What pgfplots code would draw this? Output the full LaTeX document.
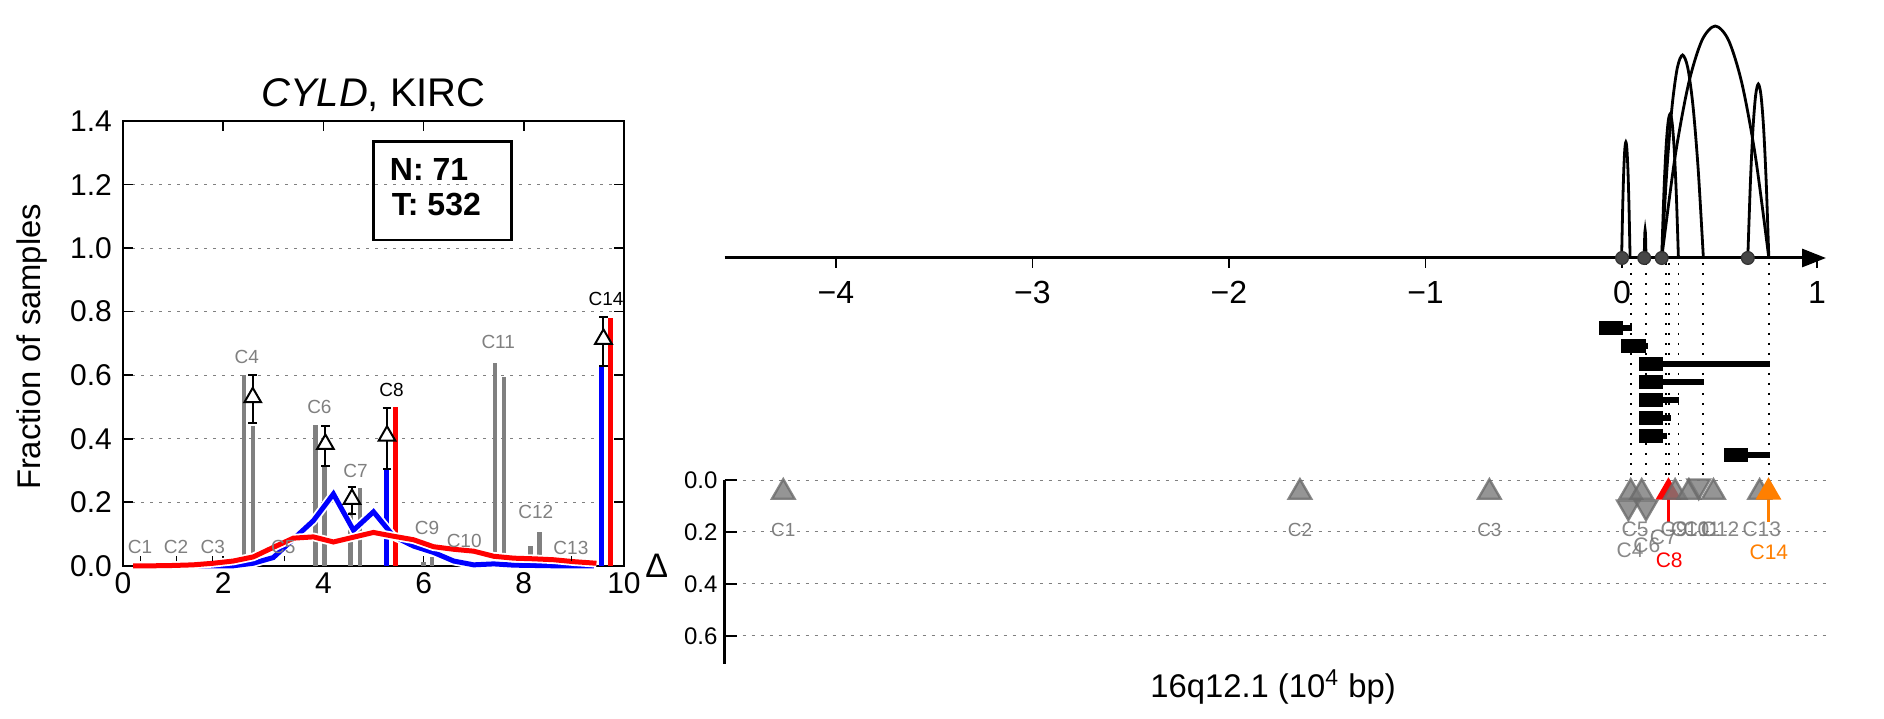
\documentclass[border=0pt]{standalone}
\usepackage{fontspec}
\setmainfont{Liberation Sans}
\usepackage{pgfplots}
\pgfplotsset{compat=1.18}
\usetikzlibrary{arrows.meta}
\definecolor{evgray}{RGB}{128,128,128}
\definecolor{myorange}{RGB}{255,127,0}
\begin{document}
\begin{tikzpicture}[x=1pt,y=1pt]
\useasboundingbox (0,0) rectangle (942,359);
% ---------------- left panel ----------------
\begin{axis}[
  at={(61.5pt,76.1pt)}, anchor=south west,
  scale only axis, width=250.5pt, height=222.4pt,
  xmin=0, xmax=10, ymin=0, ymax=1.4,
  xtick={0,2,4,6,8,10}, xticklabels={0,2,4,6,8,10},
  ytick={0,0.2,0.4,0.6,0.8,1.0,1.2,1.4},
  yticklabels={0.0,0.2,0.4,0.6,0.8,1.0,1.2,1.4},
  tick align=inside, major tick length=5pt,
  tick style={black, line width=0.8pt},
  axis line style={line width=1.3pt},
  tick label style={font=\fontsize{15}{18}\selectfont},
  yticklabel style={xshift=-2pt},
  ymajorgrids, grid style={gray, line width=0.5pt, dash pattern=on 1.5pt off 3pt},
  unbounded coords=jump,
  clip=false,
]
% gray bars
\addplot[ycomb, evgray, line width=2.2pt] coordinates {
 (2.41,0.60) (2.59,0.44) (3.84,0.443) (4.02,0.31) (4.54,0.17) (4.73,0.245)
 (6.0,0.012) (6.17,0.028) (7.43,0.637) (7.61,0.593) (8.13,0.061) (8.31,0.105)};
% colored bars
\addplot[ycomb, blue, line width=2.5pt] coordinates {(5.25,0.30) (9.56,0.627)};
\addplot[ycomb, red, line width=2.5pt] coordinates {(5.44,0.50) (9.74,0.779)};
% blue line with halo
\addplot[white, line width=4.3pt] coordinates {
 (0.2,0) (0.6,0) (1.0,0) (1.4,0) (1.8,0) (2.2,0) (2.6,0.008) (3.0,0.026) (3.4,0.084)
 (3.8,0.142) (4.2,0.226) (4.6,0.112) (5.0,0.170) (5.4,0.093) (5.8,0.062) (6.2,0.042)
 (6.6,0.015) (7.0,0.003) (7.4,0.006) (7.8,0.002) (8.2,0.001) (8.6,0) (9.0,0) (9.4,0)};
\addplot[blue, line width=2.5pt] coordinates {
 (0.2,0) (0.6,0) (1.0,0) (1.4,0) (1.8,0) (2.2,0) (2.6,0.008) (3.0,0.026) (3.4,0.084)
 (3.8,0.142) (4.2,0.226) (4.6,0.112) (5.0,0.170) (5.4,0.093) (5.8,0.062) (6.2,0.042)
 (6.6,0.015) (7.0,0.003) (7.4,0.006) (7.8,0.002) (8.2,0.001) (8.6,0) (9.0,0) (9.4,0)};
% red line with halo
\addplot[white, line width=4.3pt] coordinates {
 (0.2,0) (0.6,0) (1.0,0.001) (1.4,0.003) (1.8,0.008) (2.2,0.015) (2.6,0.028) (3.0,0.058)
 (3.4,0.087) (3.8,0.091) (4.2,0.075) (4.6,0.090) (5.0,0.105) (5.4,0.093) (5.8,0.082)
 (6.2,0.060) (6.6,0.052) (7.0,0.046) (7.4,0.030) (7.8,0.024) (8.2,0.022) (8.6,0.019)
 (9.0,0.013) (9.45,0.008)};
\addplot[red, line width=2.5pt] coordinates {
 (0.2,0) (0.6,0) (1.0,0.001) (1.4,0.003) (1.8,0.008) (2.2,0.015) (2.6,0.028) (3.0,0.058)
 (3.4,0.087) (3.8,0.091) (4.2,0.075) (4.6,0.090) (5.0,0.105) (5.4,0.093) (5.8,0.082)
 (6.2,0.060) (6.6,0.052) (7.0,0.046) (7.4,0.030) (7.8,0.024) (8.2,0.022) (8.6,0.019)
 (9.0,0.013) (9.45,0.008)};
% tiny marks
\addplot[black, line width=0.8pt] coordinates {
 (0.35,0.014) (0.35,0.031) (nan,nan) (1.07,0.014) (1.07,0.031) (nan,nan)
 (1.79,0.014) (1.79,0.031) (nan,nan) (3.22,0.014) (3.22,0.031) (nan,nan)
 (8.95,0.014) (8.95,0.031)};
% error bars
\addplot[only marks, mark=none, error bars/.cd, y dir=both, y explicit,
  error bar style={draw=black, solid, line width=1pt},
  error mark options={black, rotate=90, mark size=2.2pt, line width=1pt}] coordinates {
 (2.59,0.53) += (0,0.07) -= (0,0.08)
 (4.04,0.383) += (0,0.057) -= (0,0.068)
 (4.57,0.21) += (0,0.037) -= (0,0.047)
 (5.27,0.409) += (0,0.087) -= (0,0.105)
 (9.59,0.714) += (0,0.068) -= (0,0.085)};
\addplot[only marks, mark=triangle*, mark size=4.8pt,
  mark options={fill=white, draw=black, line width=1pt}] coordinates {
 (2.59,0.53) (4.04,0.383) (4.57,0.21) (5.27,0.409) (9.59,0.714)};
% labels
\begin{scope}[every node/.style={font=\fontsize{9.5}{11}\selectfont, text=evgray}]
\node at (axis cs:0.34,0.058) {C1};
\node at (axis cs:1.06,0.058) {C2};
\node at (axis cs:1.79,0.058) {C3};
\node at (axis cs:2.47,0.656) {C4};
\node at (axis cs:3.2,0.058) {C5};
\node at (axis cs:3.92,0.50) {C6};
\node at (axis cs:4.64,0.30) {C7};
\node[text=black] at (axis cs:5.36,0.553) {C8};
\node at (axis cs:6.07,0.12) {C9};
\node at (axis cs:6.81,0.079) {C10};
\node at (axis cs:7.49,0.703) {C11};
\node at (axis cs:8.24,0.168) {C12};
\node at (axis cs:8.94,0.056) {C13};
\node[text=black] at (axis cs:9.64,0.84) {C14};
\end{scope}
\node[font=\fontsize{20}{24}\selectfont] at (axis cs:5,1.48) {\textit{CYLD}, KIRC};
\node[font=\fontsize{16.4}{19}\selectfont, rotate=90] at (axis cs:-1.82,0.689) {Fraction of samples};
\node[draw, line width=1.2pt, anchor=north west, minimum width=68.85pt, minimum height=49.3pt, inner sep=0pt] at (axis cs:4.98,1.339) {};
\node[anchor=west, font=\bfseries\fontsize{16}{19}\selectfont, inner sep=0pt] at (axis cs:5.32,1.247) {N: 71};
\node[anchor=west, font=\bfseries\fontsize{16}{19}\selectfont, inner sep=0pt] at (axis cs:5.36,1.136) {T: 532};
\end{axis}
% ---------------- right top panel ----------------
\begin{axis}[
  at={(362.25pt,119pt)}, anchor=south west,
  scale only axis, width=550.75pt, height=240pt,
  xmin=-4.567, xmax=1.038, ymin=-222, ymax=258,
  hide axis, clip=false, unbounded coords=jump,
]
% dotted lines
\addplot[black, line width=0.9pt, dash pattern=on 0.9pt off 4.1pt] coordinates {
 (0.044,-5) (0.044,-222) (nan,nan) (0.122,-5) (0.122,-222) (nan,nan)
 (0.224,-5) (0.224,-222) (nan,nan) (0.238,-5) (0.238,-222) (nan,nan)
 (0.287,-5) (0.287,-222) (nan,nan) (0.414,-5) (0.414,-222) (nan,nan)
 (0.747,-5) (0.747,-222)};
% arcs
\addplot[black, line width=1.4pt, smooth] coordinates {
 (-0.002,0) (0.003375,50.75) (0.00875,87) (0.014125,108.75) (0.0195,116)
 (0.024875,108.75) (0.03025,87) (0.035625,50.75) (0.041,0)};
\addplot[black, line width=1.4pt, smooth] coordinates {
 (0.113,0) (0.114125,12.25) (0.11525,21) (0.116375,26.25) (0.1175,28)
 (0.118625,26.25) (0.11975,21) (0.120875,12.25) (0.122,0)};
\addplot[black, line width=1.4pt, smooth] coordinates {
 (0.202,0) (0.212625,63) (0.22325,108) (0.233875,135) (0.2445,144)
 (0.255125,135) (0.26575,108) (0.276375,63) (0.287,0)};
\addplot[black, line width=1.4pt, smooth] coordinates {
 (0.202,0) (0.2285,88.81) (0.255,152.25) (0.2815,190.31) (0.308,203)
 (0.3345,190.31) (0.361,152.25) (0.3875,88.81) (0.414,0)};
\addplot[black, line width=1.4pt, smooth] coordinates {
 (0.202,0) (0.270125,101.5) (0.33825,174) (0.406375,217.5) (0.4745,232)
 (0.542625,217.5) (0.61075,174) (0.678875,101.5) (0.747,0)};
\addplot[black, line width=1.4pt, smooth] coordinates {
 (0.64,0) (0.653375,76.125) (0.66675,130.5) (0.680125,163.125) (0.6935,174)
 (0.706875,163.125) (0.72025,130.5) (0.733625,76.125) (0.747,0)};
% genome axis
\addplot[black, line width=1.5pt, -{Triangle[length=12pt, width=9pt]}] coordinates {(-4.567,0) (1.038,0)};
\addplot[ycomb, black, line width=0.8pt] coordinates {(-4,-10) (-3,-10) (-2,-10) (-1,-10) (0,-10) (0.992,-10)};
\addplot[only marks, mark=*, mark size=3.2pt, mark options={fill=black!72, draw=black!80, line width=0.6pt}] coordinates {(0,0) (0.113,0) (0.202,0) (0.64,0)};
\begin{scope}[every node/.style={font=\fontsize{16}{19}\selectfont}]
\node at (axis cs:-4,-34.5) {−4};
\node at (axis cs:-3,-34.5) {−3};
\node at (axis cs:-2,-34.5) {−2};
\node at (axis cs:-1,-34.5) {−1};
\node at (axis cs:0,-34.5) {0};
\node at (axis cs:0.992,-34.5) {1};
\end{scope}
% rows: thin lines
\addplot[black, line width=2.85pt] coordinates {
 (-0.116,-69.7) (0.049,-69.7) (nan,nan)
 (-0.005,-87.7) (0.131,-87.7) (nan,nan)
 (0.088,-106.3) (0.753,-106.3) (nan,nan)
 (0.088,-124.3) (0.419,-124.3) (nan,nan)
 (0.088,-142.3) (0.292,-142.3) (nan,nan)
 (0.088,-160.3) (0.248,-160.3) (nan,nan)
 (0.088,-178) (0.231,-178) (nan,nan)
 (0.521,-197) (0.753,-197)};
% rows: boxes
\addplot[black, line width=7.15pt] coordinates {
 (-0.116,-69.7) (0.007,-69.7) (nan,nan)
 (-0.005,-87.7) (0.121,-87.7) (nan,nan)
 (0.088,-106.3) (0.210,-106.3) (nan,nan)
 (0.088,-124.3) (0.210,-124.3) (nan,nan)
 (0.088,-142.3) (0.210,-142.3) (nan,nan)
 (0.088,-160.3) (0.210,-160.3) (nan,nan)
 (0.088,-178) (0.210,-178) (nan,nan)
 (0.521,-197) (0.643,-197)};
\end{axis}
% ---------------- right bottom panel ----------------
\begin{axis}[
  at={(362.25pt,27pt)}, anchor=south west,
  scale only axis, width=551.75pt, height=92pt,
  xmin=-4.567, xmax=1.048, ymin=0, ymax=0.708, y dir=reverse,
  axis x line=none, axis y line=left,
  y axis line style={-, line width=1.3pt},
  ytick={0,0.2,0.4,0.6}, yticklabels={0.0,0.2,0.4,0.6},
  tick align=inside, major tick length=6pt,
  tick style={black, line width=0.8pt},
  tick label style={font=\fontsize{12}{14}\selectfont},
  ymajorgrids, grid style={gray, line width=0.5pt, dash pattern=on 1.5pt off 3pt},
  clip=false,
]
% red arrow
\addplot[red, line width=1.8pt] coordinates {(0.236,0.047) (0.236,0.16)};
\addplot[only marks, mark=triangle*, mark size=6.5pt, mark options={fill=red, draw=red, line width=1pt}] coordinates {(0.236,0.047)};
% gray up triangles
\addplot[only marks, mark=triangle*, mark size=6.5pt,
  mark options={fill=black!52, draw=black!58, line width=1.2pt, opacity=0.8}] coordinates {
 (-4.268,0.047) (-1.639,0.047) (-0.675,0.047) (0.044,0.047) (0.10,0.047)
 (0.27,0.047) (0.34,0.047) (0.465,0.047) (0.70,0.047)};
% gray down triangles
\addplot[only marks, mark=triangle*, mark size=6.5pt,
  mark options={rotate=180, fill=black!52, draw=black!58, line width=1.2pt, opacity=0.8}] coordinates {
 (0.39,0.023) (0.032,0.104) (0.122,0.104)};
% orange arrow
\addplot[myorange, line width=1.8pt] coordinates {(0.745,0.047) (0.745,0.16)};
\addplot[only marks, mark=triangle*, mark size=6.5pt, mark options={fill=myorange, draw=myorange, line width=1pt}] coordinates {(0.745,0.047)};
% labels
\begin{scope}[every node/.style={font=\fontsize{9.5}{11}\selectfont, text=evgray}]
\node at (axis cs:-4.268,0.192) {C1};
\node at (axis cs:-1.639,0.192) {C2};
\node at (axis cs:-0.675,0.192) {C3};
\end{scope}
\begin{scope}[every node/.style={font=\fontsize{10.5}{12}\selectfont, text=black!55, text opacity=0.85}]
\node at (axis cs:0.066,0.19) {C5};
\node at (axis cs:0.041,0.272) {C4};
\node at (axis cs:0.126,0.25) {C6};
\node at (axis cs:0.21,0.219) {C7};
\node at (axis cs:0.265,0.19) {C9};
\node at (axis cs:0.346,0.19) {C10};
\node at (axis cs:0.405,0.19) {C11};
\node at (axis cs:0.499,0.19) {C12};
\node at (axis cs:0.711,0.19) {C13};
\node[text=red, text opacity=1] at (axis cs:0.24,0.308) {C8};
\node[text=myorange, text opacity=1] at (axis cs:0.747,0.277) {C14};
\end{scope}
\node[font=\fontsize{17}{20}\selectfont] at (axis cs:-4.912,0.33) {Δ};
\node[font=\fontsize{16.4}{19}\selectfont] at (axis cs:-1.776,0.796) {16q12.1 (10\textsuperscript{4} bp)};
\end{axis}
\end{tikzpicture}
\end{document}
